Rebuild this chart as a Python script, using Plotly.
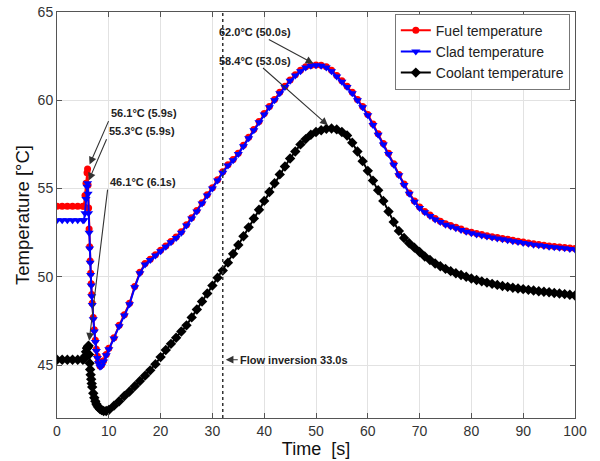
import plotly.graph_objects as go

# ---------------- data ----------------
time_steady = [0, 1, 2, 3, 4, 5]
time_transient = [5.2, 5.4, 5.6, 5.8, 5.9, 6.0, 6.1, 6.2, 6.3, 6.4, 6.5, 6.6,
                  6.7, 6.8, 7.0, 7.2, 7.4, 7.6, 7.8, 8.0, 8.3, 8.6, 9.0, 9.5]
time_late = list(range(10, 101))
time_s = time_steady + time_transient + time_late

fuel_steady = [54.0, 54.0, 54.0, 54.0, 54.0, 54.0]
fuel_transient = [54.0, 54.6, 55.3, 55.9, 56.1, 55.2, 53.9, 52.7, 51.7, 50.9, 50.2, 49.6,
                  49.0, 48.5, 47.7, 47.0, 46.4, 45.9, 45.5, 45.2, 44.95, 45.0, 45.25, 45.6]
fuel_late = [45.95, 46.55, 47.25, 47.85, 48.5, 49.45, 50.25, 50.75, 51.0, 51.25,
             51.5, 51.75, 52.0, 52.25, 52.55, 52.95, 53.35, 53.75, 54.2, 54.65,
             55.05, 55.5, 55.95, 56.35, 56.65, 57.0, 57.45, 57.9, 58.35, 58.8,
             59.25, 59.65, 60.05, 60.45, 60.8, 61.15, 61.45, 61.7, 61.9, 61.97,
             62.0, 61.98, 61.9, 61.7, 61.4, 61.1, 60.8, 60.45, 60.05, 59.65,
             59.2, 58.65, 58.1, 57.55, 57.0, 56.4, 55.8, 55.25, 54.75, 54.3,
             53.95, 53.7, 53.5, 53.3, 53.15, 53.0, 52.9, 52.8, 52.7, 52.6,
             52.52, 52.45, 52.39, 52.33, 52.27, 52.22, 52.17, 52.12, 52.07, 52.02,
             51.97, 51.92, 51.87, 51.83, 51.79, 51.75, 51.72, 51.69, 51.66, 51.63, 51.6]

clad_steady = [53.2, 53.2, 53.2, 53.2, 53.2, 53.2]
clad_transient = [53.2, 53.6, 54.4, 55.1, 55.3, 54.7, 53.6, 52.5, 51.6, 50.8, 50.1, 49.5,
                  48.9, 48.4, 47.6, 46.9, 46.3, 45.8, 45.4, 45.1, 44.9, 44.95, 45.2, 45.55]
clad_late = [45.9, 46.5, 47.2, 47.8, 48.45, 49.4, 50.2, 50.7, 50.95, 51.2,
             51.45, 51.7, 51.95, 52.2, 52.5, 52.9, 53.3, 53.7, 54.15, 54.6,
             55.0, 55.45, 55.9, 56.3, 56.6, 56.95, 57.4, 57.85, 58.3, 58.75,
             59.2, 59.6, 60.0, 60.4, 60.75, 61.1, 61.4, 61.65, 61.85, 61.95,
             61.98, 61.95, 61.85, 61.65, 61.35, 61.05, 60.75, 60.4, 60.0, 59.6,
             59.15, 58.6, 58.05, 57.5, 56.95, 56.35, 55.75, 55.2, 54.7, 54.25,
             53.9, 53.65, 53.45, 53.25, 53.1, 52.95, 52.85, 52.75, 52.65, 52.55,
             52.47, 52.4, 52.34, 52.28, 52.22, 52.17, 52.12, 52.07, 52.02, 51.97,
             51.92, 51.87, 51.82, 51.78, 51.74, 51.7, 51.67, 51.64, 51.61, 51.58, 51.55]

coolant_steady = [45.3, 45.3, 45.3, 45.3, 45.3, 45.3]
coolant_transient = [45.35, 45.5, 45.75, 45.95, 46.0, 46.05, 46.1, 45.6, 45.1, 44.75, 44.45, 44.2,
                     43.95, 43.75, 43.4, 43.15, 42.95, 42.8, 42.7, 42.6, 42.5, 42.45, 42.4, 42.4]
coolant_late = [42.45, 42.7, 42.95, 43.25, 43.5, 43.8, 44.1, 44.4, 44.7, 45.05,
                45.45, 45.85, 46.2, 46.55, 46.9, 47.25, 47.7, 48.15, 48.6, 49.05,
                49.5, 49.95, 50.35, 50.8, 51.3, 51.8, 52.3, 52.8, 53.3, 53.8,
                54.3, 54.8, 55.3, 55.8, 56.25, 56.7, 57.1, 57.5, 57.8, 58.05,
                58.2, 58.3, 58.38, 58.4, 58.35, 58.2, 58.0, 57.6, 57.1, 56.55,
                56.0, 55.45, 54.9, 54.3, 53.7, 53.1, 52.6, 52.2, 51.9, 51.65,
                51.4, 51.15, 50.95, 50.75, 50.6, 50.45, 50.32, 50.2, 50.1, 50.0,
                49.9, 49.82, 49.74, 49.67, 49.6, 49.54, 49.48, 49.43, 49.38, 49.34,
                49.3, 49.26, 49.22, 49.18, 49.15, 49.12, 49.08, 49.05, 49.02, 48.98, 48.94]

fuel_temp = fuel_steady + fuel_transient + fuel_late
clad_temp = clad_steady + clad_transient + clad_late
coolant_temp = coolant_steady + coolant_transient + coolant_late

series_names = ["Fuel temperature", "Clad temperature", "Coolant temperature"]
x_ticks = [0, 10, 20, 30, 40, 50, 60, 70, 80, 90, 100]
y_ticks = [45, 50, 55, 60, 65]

flow_inversion_t = 32
flow_inversion_label = "Flow inversion 33.0s"
peak_points = [  # (time, temperature, label)
    (5.9, 56.1, "56.1°C (5.9s)"),
    (5.9, 55.3, "55.3°C (5.9s)"),
    (6.1, 46.1, "46.1°C (6.1s)"),
    (50.0, 62.0, "62.0°C (50.0s)"),
    (53.0, 58.4, "58.4°C (53.0s)"),
]

# ---------------- figure ----------------
FONT = "Liberation Sans, Arial, sans-serif"
fig = go.Figure()
fig.add_trace(go.Scatter(x=time_s, y=fuel_temp, name=series_names[0], mode="lines+markers",
                         line=dict(color="#ff0000", width=2),
                         marker=dict(symbol="circle", size=7, color="#ff0000")))
fig.add_trace(go.Scatter(x=time_s, y=clad_temp, name=series_names[1], mode="lines+markers",
                         line=dict(color="#0000ff", width=2),
                         marker=dict(symbol="triangle-down", size=8, color="#0000ff")))
fig.add_trace(go.Scatter(x=time_s, y=coolant_temp, name=series_names[2], mode="lines+markers",
                         line=dict(color="#000000", width=2),
                         marker=dict(symbol="diamond", size=8, color="#000000")))

fig.add_shape(type="line", xref="x", yref="paper", x0=flow_inversion_t, x1=flow_inversion_t,
              y0=0, y1=1, line=dict(color="#333333", width=1.5, dash="dot"))

ann_style = dict(showarrow=True, arrowhead=2, arrowsize=1.4, arrowwidth=1.1,
                 arrowcolor="#333333", font=dict(family=FONT, size=11, color="#222222"))
offsets = [
    dict(ax=21, ay=-48, xanchor="left", yanchor="bottom", standoff=5),
    dict(ax=19, ay=-44, xanchor="left", yanchor="bottom", standoff=3),
    dict(ax=19, ay=-156, xanchor="left", yanchor="bottom", standoff=5),
    dict(ax=-61, ay=-33, xanchor="center", yanchor="middle", standoff=3),
    dict(ax=-77, ay=-68, xanchor="center", yanchor="middle", standoff=5),
]
for (t, v, lab), off in zip(peak_points, offsets):
    fig.add_annotation(x=t, y=v, xref="x", yref="y", text="<b>%s</b>" % lab, **off, **ann_style)

fig.add_annotation(x=flow_inversion_t, y=0.1436, xref="x", yref="paper",
                   text="<b>%s</b>" % flow_inversion_label, ax=15, ay=0,
                   xanchor="left", yanchor="middle", standoff=3, **ann_style)

axis_common = dict(showline=True, linecolor="#555555", linewidth=1, mirror="ticks",
                   ticks="inside", ticklen=5, tickcolor="#555555", automargin=False,
                   showgrid=True, gridcolor="#e2e2e2", gridwidth=1, zeroline=False,
                   tickfont=dict(family=FONT, size=14, color="#333333"))

fig.update_layout(
    width=600, height=461,
    margin=dict(l=57, r=25, t=12, b=43),
    paper_bgcolor="white", plot_bgcolor="white",
    font=dict(family=FONT),
    xaxis=dict(range=[0, 100], tickvals=x_ticks,
               title=dict(text="Time\u00a0 [s]", font=dict(family=FONT, size=18, color="#111111"),
                          standoff=2),
               **axis_common),
    yaxis=dict(range=[42, 65], tickvals=y_ticks,
               title=dict(text="Temperature [°C]", font=dict(family=FONT, size=18.5, color="#111111"),
                          standoff=3),
               **axis_common),
    legend=dict(x=0.99, y=0.996, xanchor="right", yanchor="top", bgcolor="white",
                bordercolor="#777777", borderwidth=1,
                font=dict(family=FONT, size=14, color="#222222"),
                tracegroupgap=0, itemwidth=30),
    showlegend=True,
)

fig.write_html("out.html")
